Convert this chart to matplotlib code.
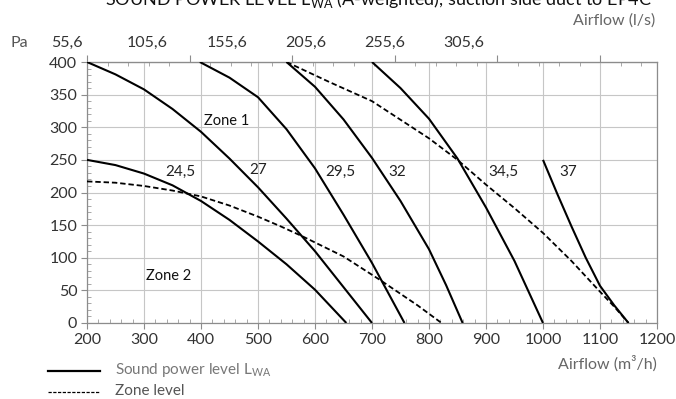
import matplotlib

matplotlib.use("Agg")
import matplotlib.pyplot as plt
import matplotlib.transforms as mtransforms
from matplotlib.lines import Line2D
from matplotlib.ticker import FixedLocator, MultipleLocator, NullFormatter

plt.rcParams["font.family"] = ["Lato", "DejaVu Sans"]

# sound power level curves, airflow (m3/h) vs pressure (Pa)
curve_labels = ["24,5", "27", "29,5", "32", "34,5", "37"]
curve_x = [
    [200, 250, 300, 350, 400, 450, 500, 550, 600, 655],
    [200, 250, 300, 350, 400, 450, 500, 550, 600, 650, 700],
    [398, 450, 500, 550, 600, 650, 700, 757],
    [550, 600, 650, 700, 750, 800, 830, 859],
    [700, 750, 800, 850, 900, 950, 1000],
    [1000, 1025, 1050, 1075, 1100, 1125, 1150],
]
curve_y = [
    [250, 242, 229, 211, 187, 158, 125, 90, 51, 0],
    [400, 381, 358, 328, 293, 252, 208, 160, 110, 55, 0],
    [400, 376, 346, 297, 237, 166, 92, 0],
    [400, 362, 312, 253, 187, 113, 58, 0],
    [400, 360, 313, 252, 177, 95, 0],
    [250, 198, 148, 100, 57, 27, 0],
]
# where the curve labels sit
label_x = [363, 500, 645, 745, 930, 1045]
label_y = [231, 234, 232, 232, 232, 232]

# zone boundaries (dashed)
zone1_x = [550, 626, 700, 800, 850, 900, 950, 1000, 1050, 1100, 1125, 1150]
zone1_y = [400, 369, 340, 283, 250, 212, 176, 138, 95, 48, 25, 0]
zone2_x = [200, 250, 300, 350, 400, 450, 500, 540, 580, 650, 714, 780, 822]
zone2_y = [217, 215, 210, 203, 194, 180, 163, 148, 132, 102, 66, 27, 0]

# top axis in l/s
ls_ticks = [55.6, 105.6, 155.6, 205.6, 255.6, 305.6]
# the printed l/s labels are drawn off their ticks in the source
ls_label_pos = [165, 305, 445, 584, 723, 861]

fig = plt.figure(figsize=(6.76, 3.99), dpi=100)
ax = fig.add_axes([87 / 676, 1 - 323 / 399, 570 / 676, 261 / 399])

for xs, ys in zip(curve_x, curve_y):
    ax.plot(xs, ys, color="black", lw=1.5, solid_capstyle="butt",
            solid_joinstyle="round", zorder=3)
for xs, ys in ((zone1_x, zone1_y), (zone2_x, zone2_y)):
    ax.plot(xs, ys, color="black", lw=1.3, ls=(0, (3.0, 1.6)), zorder=3)

for t, x, y in zip(curve_labels, label_x, label_y):
    ax.text(x, y, t, fontsize=11, color="#222222", ha="center", va="center")
ax.text(405, 309, "Zone 1", fontsize=10.5, color="#111111", va="center")
ax.text(303, 72, "Zone 2", fontsize=10.5, color="#111111", va="center")

ax.set_xlim(200, 1200)
ax.set_ylim(0, 400)
ax.set_xticks(range(200, 1201, 100))
ax.set_yticks(range(0, 401, 50))
ax.xaxis.set_minor_locator(MultipleLocator(20))
ax.yaxis.set_minor_locator(MultipleLocator(10))
ax.grid(True, which="major", color="#c6c6c6", lw=0.8)
ax.set_axisbelow(True)
for s in ax.spines.values():
    s.set_color("#8c8c8c")
    s.set_linewidth(0.9)
ax.tick_params(which="major", length=4, color="#8c8c8c", labelsize=11.5,
               labelcolor="#333333", pad=3)
ax.tick_params(which="minor", direction="in", length=3, color="#9a9a9a")

sec = ax.secondary_xaxis("top", functions=(lambda v: v / 3.6, lambda v: v * 3.6))
sec.xaxis.set_major_locator(FixedLocator(ls_ticks))
sec.xaxis.set_major_formatter(NullFormatter())
sec.xaxis.set_minor_locator(FixedLocator([55.6 + 10 * i for i in range(32)]))
sec.tick_params(which="major", length=5, color="#8c8c8c")
sec.tick_params(which="minor", direction="in", length=3, color="#9a9a9a")
sec.spines["top"].set_color("#8c8c8c")

trans = mtransforms.blended_transform_factory(ax.transData, ax.transAxes)
for v, x in zip(ls_ticks, ls_label_pos):
    ax.text(x, 1.073, f"{v:.1f}".replace(".", ","), transform=trans,
            fontsize=11.5, color="#333333", ha="center", va="center", clip_on=False)

fig.text(10 / 676, 1 - 43 / 399, "Pa", fontsize=11.5, color="#555555", va="center")
fig.text(655 / 676, 1 - 21 / 399, "Airflow (l/s)", fontsize=11.5, color="#666666",
         ha="right", va="center")
fig.text(657 / 676, 1 - 364 / 399, "Airflow (m³/h)", fontsize=11.5,
         color="#666666", ha="right", va="center")
fig.text(105 / 676, 1 - 4.5 / 399,
         "SOUND POWER LEVEL L$_{\\mathregular{WA}}$ (A-weighted), suction side duct to EP4C",
         fontsize=13, color="#111111", ha="left", va="baseline")

# legend
fig.add_artist(Line2D([48 / 676, 100 / 676], [1 - 371 / 399] * 2, color="black", lw=1.6))
fig.add_artist(Line2D([48 / 676, 100 / 676], [1 - 392 / 399] * 2, color="black", lw=0.9,
                      ls=(0, (2.6, 1.2))))
fig.text(115 / 676, 1 - 370 / 399, "Sound power level L$_{\\mathregular{WA}}$", fontsize=11,
         color="#777777", va="center")
fig.text(115 / 676, 1 - 391 / 399, "Zone level", fontsize=11, color="#555555",
         va="center")

fig.savefig("out.png", dpi=100)
